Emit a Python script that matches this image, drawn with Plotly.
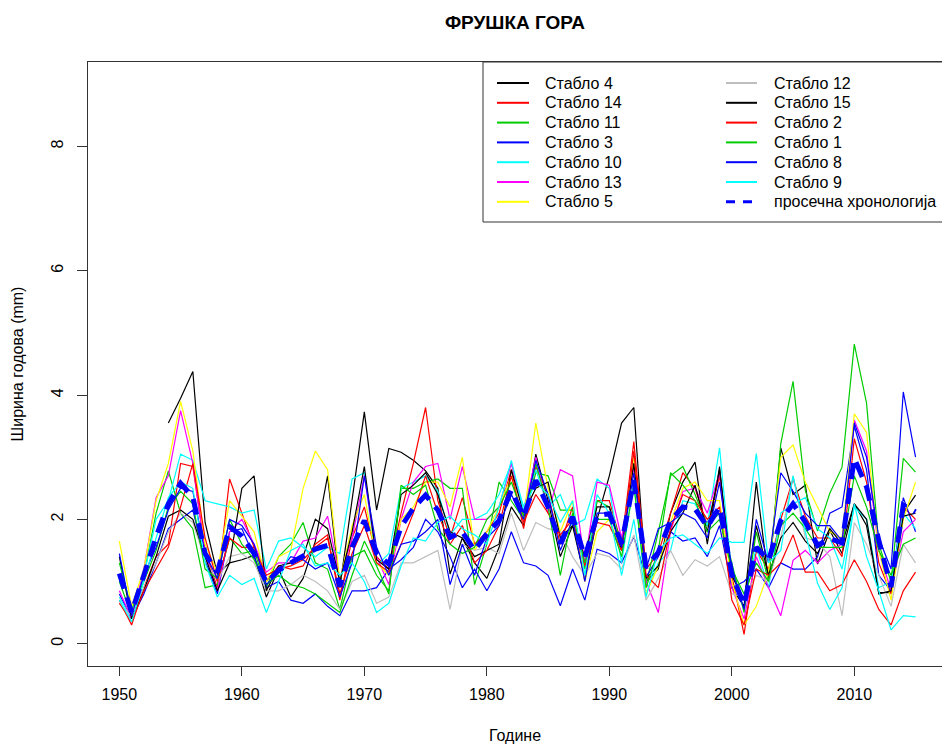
import plotly.graph_objects as go

# Tree-ring widths (mm), Fruška Gora site, 1950-2015
years = list(range(1950, 2016))

stablo_4 = [None, None, None, None, 3.55, 3.95, 4.38, 1.95, 1.12, 1.30,
            1.35, 1.42, 0.75, 1.20, 0.75, 1.05, 1.65, 2.70, 0.90, 2.30,
            3.73, 2.15, 3.14, 3.08, 2.95, 2.78, 2.50, 1.12, 1.70, 1.30,
            1.05, 1.55, 2.20, 1.90, 3.05, 2.30, 1.40, 1.90, 1.05, 2.00,
            2.70, 3.55, 3.80, 1.00, 1.20, 2.10, 2.60, 2.92, 1.60, 2.85,
            0.90, 0.60, 2.60, 1.00, 3.15, 2.40, 2.55, 1.28, 1.82, 1.45,
            2.25, 1.90, 0.82, 0.82, 2.10, 2.39]
stablo_14 = [0.70, 0.30, 0.90, 1.40, 1.60, 2.90, 2.85, 1.50, 0.90, 2.65,
             2.10, 1.55, 1.00, 1.25, 1.20, 1.25, 1.60, 1.75, 0.70, 1.70,
             2.20, 1.40, 1.20, 2.10, 2.90, 3.80, 2.30, 1.70, 2.35, 1.60,
             1.80, 2.10, 2.80, 1.85, 2.85, 2.40, 1.60, 2.20, 1.00, 2.30,
             2.30, 1.60, 3.25, 1.20, 1.45, 2.10, 2.75, 2.50, 1.90, 2.70,
             1.10, 0.15, 1.50, 1.20, 2.00, 2.65, 2.05, 1.70, 1.70, 1.40,
             3.30, 2.60, 1.30, 0.80, 2.20, 2.00]
stablo_11 = [1.00, 0.45, 1.10, 2.10, 2.78, 2.10, 1.85, 0.90, 0.95, 1.70,
             1.45, 1.50, 0.90, 1.40, 1.60, 1.95, 1.30, 1.20, 0.55, 1.40,
             1.50, 1.10, 0.85, 2.50, 2.50, 2.60, 2.65, 2.50, 2.50, 0.95,
             1.60, 2.60, 2.30, 2.00, 2.75, 2.70, 2.15, 2.15, 1.20, 2.30,
             2.20, 1.60, 3.00, 0.95, 1.80, 2.70, 2.85, 2.40, 1.90, 2.10,
             1.30, 0.50, 1.80, 1.00, 3.22, 4.22, 2.47, 1.81, 2.42, 2.84,
             4.82, 3.87, 1.60, 1.00, 2.98, 2.76]
stablo_3 = [0.80, 0.40, 0.80, 1.30, 1.85, 2.00, 2.15, 1.35, 0.80, 1.80,
            1.85, 1.40, 0.90, 1.00, 0.70, 0.65, 0.80, 0.60, 0.45, 0.85,
            0.85, 0.90, 1.20, 1.35, 1.55, 2.00, 1.80, 1.40, 0.90, 1.20,
            0.85, 1.20, 1.80, 1.30, 1.25, 1.10, 0.61, 1.20, 0.70, 1.52,
            1.45, 1.30, 1.72, 1.07, 1.40, 1.80, 1.65, 1.70, 1.40, 1.90,
            0.90, 1.00, 1.20, 0.90, 1.30, 1.20, 1.20, 1.40, 2.10, 2.20,
            3.50, 2.80, 1.10, 0.85, 2.35, 1.80]
stablo_10 = [0.75, 0.40, 1.10, 2.00, 2.30, 3.05, 2.95, 2.30, 2.25, 2.20,
             2.10, 2.15, 1.20, 1.65, 1.70, 1.55, 1.40, 1.55, 1.45, 2.65,
             2.75, 1.25, 1.45, 2.50, 2.60, 2.70, 2.45, 1.75, 2.00, 2.00,
             2.10, 2.40, 2.90, 2.20, 2.80, 2.20, 2.40, 1.90, 2.00, 2.65,
             2.50, 1.30, 2.60, 0.80, 1.30, 1.50, 2.30, 2.25, 1.90, 3.15,
             1.10, 0.70, 1.55, 0.90, 2.10, 2.25, 2.35, 1.85, 1.70, 1.20,
             2.20, 2.00, 0.90, 1.00, 2.10, 1.85]
stablo_13 = [0.85, 0.40, 1.20, 2.35, 2.70, 3.75, 2.90, 1.45, 0.85, 1.80,
             2.00, 1.60, 1.15, 1.30, 1.30, 1.65, 1.70, 2.05, 1.05, 1.70,
             2.70, 1.40, 0.95, 2.00, 2.60, 2.85, 2.90, 2.00, 2.85, 2.00,
             2.00, 2.20, 2.90, 2.10, 3.00, 2.10, 2.80, 2.70, 1.30, 2.60,
             2.55, 1.70, 2.85, 1.00, 0.50, 1.80, 2.45, 2.50, 2.10, 2.75,
             0.90, 0.40, 1.40, 0.90, 0.45, 1.34, 1.50, 1.30, 1.50, 1.60,
             3.60, 3.10, 1.50, 0.85, 1.80, 2.00]
stablo_5 = [1.65, 0.60, 1.20, 2.30, 2.90, 3.90, 3.10, 1.60, 1.15, 2.30,
            2.05, 1.80, 1.00, 1.40, 1.50, 2.50, 3.10, 2.80, 1.00, 1.90,
            2.40, 1.30, 1.10, 2.00, 2.20, 2.60, 2.60, 2.20, 3.00, 1.50,
            1.80, 2.20, 2.70, 2.00, 3.55, 2.50, 1.80, 2.30, 1.00, 1.80,
            2.00, 1.50, 3.00, 0.80, 1.25, 1.95, 2.50, 2.60, 2.30, 2.30,
            1.00, 0.30, 0.60, 1.15, 3.00, 3.20, 2.60, 2.20, 1.80, 1.70,
            3.70, 3.40, 1.50, 0.70, 2.00, 2.60]
stablo_12 = [0.65, 0.45, 0.90, 1.30, 1.80, 2.10, 1.95, 1.35, 1.00, 1.40,
             1.45, 1.30, 0.85, 0.85, 0.95, 1.10, 1.00, 0.85, 0.55, 1.00,
             1.10, 0.65, 0.75, 1.30, 1.30, 1.40, 1.50, 0.55, 1.60, 1.50,
             1.55, 1.45, 2.10, 1.50, 1.95, 1.85, 1.80, 1.40, 1.10, 1.45,
             1.40, 1.20, 1.75, 0.70, 1.05, 1.50, 1.10, 1.35, 1.25, 1.40,
             0.80, 0.75, 1.10, 1.00, 1.70, 2.70, 1.70, 1.65, 1.40, 0.45,
             1.95, 1.60, 1.10, 0.60, 1.60, 1.30]
stablo_15 = [1.40, 0.40, 0.85, 1.40, 2.05, 2.15, 2.00, 1.40, 0.85, 1.30,
             2.50, 2.70, 0.85, 1.25, 1.30, 1.40, 2.00, 1.85, 1.00, 1.80,
             2.85, 1.35, 1.20, 2.40, 2.55, 2.75, 2.40, 1.80, 1.70, 1.40,
             1.50, 1.60, 2.80, 2.10, 2.50, 2.60, 1.70, 1.90, 1.40, 2.20,
             2.20, 1.50, 2.90, 1.05, 1.25, 1.80, 2.10, 2.55, 1.80, 2.80,
             1.10, 0.70, 1.90, 1.10, 1.70, 1.95, 1.65, 1.45, 1.85, 1.60,
             2.25, 2.00, 0.80, 0.85, 2.05, 2.10]
stablo_2 = [0.65, 0.35, 0.85, 1.20, 1.55, 2.20, 2.90, 1.70, 1.00, 1.70,
            1.55, 1.55, 1.10, 1.20, 1.25, 1.35, 1.55, 1.70, 0.80, 1.45,
            1.90, 1.30, 1.15, 1.60, 2.10, 2.70, 2.10, 1.60, 1.90, 1.30,
            1.50, 1.90, 2.70, 1.95, 2.40, 2.10, 1.75, 2.00, 1.25, 1.95,
            1.90, 1.50, 3.10, 1.10, 0.90, 1.85, 2.40, 2.30, 2.00, 2.20,
            0.70, 0.30, 1.20, 1.10, 1.30, 1.75, 1.15, 1.15, 0.85, 0.95,
            1.35, 1.00, 0.55, 0.30, 0.85, 1.15]
stablo_1 = [1.30, 0.55, 1.00, 1.50, 2.20, 2.45, 2.25, 1.20, 1.05, 2.00,
            1.60, 1.35, 0.95, 1.10, 0.95, 0.90, 0.80, 0.65, 0.50, 1.10,
            1.65, 1.25, 0.80, 2.55, 2.40, 2.55, 1.85, 1.60, 1.45, 1.55,
            2.00, 2.20, 2.60, 2.05, 2.90, 2.20, 1.10, 2.10, 1.30, 2.00,
            2.00, 1.40, 2.55, 0.90, 1.50, 2.75, 2.55, 2.30, 1.80, 2.00,
            1.20, 0.80, 1.30, 1.00, 1.90, 2.10, 1.85, 1.55, 1.55, 1.55,
            2.70, 2.20, 1.50, 1.10, 1.60, 1.70]
stablo_8 = [1.45, 0.45, 1.10, 1.55, 2.15, 2.50, 2.45, 1.45, 1.05, 2.00,
            1.90, 1.60, 0.95, 1.15, 1.40, 1.35, 1.20, 1.30, 0.75, 1.30,
            2.70, 1.55, 1.10, 1.60, 1.65, 1.80, 2.00, 0.95, 1.60, 1.10,
            1.70, 1.90, 2.40, 2.00, 2.95, 2.40, 1.50, 2.00, 1.00, 2.10,
            2.10, 1.55, 2.75, 1.20, 1.85, 1.95, 2.10, 2.00, 1.70, 2.60,
            1.20, 0.55, 2.00, 1.30, 2.75, 2.45, 2.10, 1.90, 1.90, 1.65,
            3.55, 3.00, 1.70, 1.20, 4.05, 3.00]
stablo_9 = [0.70, 0.35, 1.00, 1.70, 2.35, 2.60, 2.50, 1.30, 0.75, 1.10,
            0.95, 1.05, 0.50, 1.00, 1.50, 1.60, 1.25, 1.30, 1.10, 1.30,
            1.00, 0.50, 0.65, 1.25, 1.70, 1.65, 1.95, 2.05, 1.85, 1.75,
            1.60, 2.20, 2.95, 2.15, 2.60, 2.40, 1.95, 2.30, 1.10, 2.40,
            2.10, 1.10, 2.00, 0.75, 1.50, 1.70, 1.75, 1.60, 1.45, 1.70,
            1.63, 1.63, 3.06, 1.30, 1.50, 2.70, 1.80, 0.97, 0.55, 0.90,
            2.25, 1.40, 0.85, 0.22, 0.45, 0.43]

# Mean chronology of the site
prosek = [1.13, 0.50, 1.10, 1.72, 2.25, 2.58, 2.36, 1.45, 1.15, 1.88,
          1.73, 1.45, 0.98, 1.18, 1.30, 1.40, 1.52, 1.58, 0.92, 1.55,
          1.98, 1.45, 1.28, 1.88, 2.18, 2.39, 2.15, 1.71, 1.80, 1.50,
          1.77, 1.98, 2.47, 2.04, 2.63, 2.20, 1.61, 2.04, 1.39, 2.06,
          2.09, 1.61, 2.63, 1.23, 1.47, 1.98, 2.20, 2.17, 1.88, 2.20,
          1.12, 0.62, 1.55, 1.34, 1.98, 2.25, 1.96, 1.58, 1.69, 1.62,
          2.98, 2.52, 1.66, 0.91, 2.23, 2.12]

tree_names = ["Стабло 4", "Стабло 14", "Стабло 11", "Стабло 3", "Стабло 10",
              "Стабло 13", "Стабло 5", "Стабло 12", "Стабло 15", "Стабло 2",
              "Стабло 1", "Стабло 8", "Стабло 9"]
tree_values = [stablo_4, stablo_14, stablo_11, stablo_3, stablo_10,
               stablo_13, stablo_5, stablo_12, stablo_15, stablo_2,
               stablo_1, stablo_8, stablo_9]
mean_name = "просечна хронологија"

# base R palette, recycled over the trees
palette = ["#000000", "#FF0000", "#00CD00", "#0000FF",
           "#00FFFF", "#FF00FF", "#FFFF00", "#BEBEBE"]
mean_color = "#0000FF"

W, H = 942, 744
L, T, B = 88, 62, 666
FONT = "Liberation Sans, Arial, Helvetica, sans-serif"

fig = go.Figure()
for i, (name, vals) in enumerate(zip(tree_names, tree_values)):
    fig.add_trace(go.Scatter(
        x=years, y=vals, mode="lines", name=name,
        line=dict(color=palette[i % len(palette)], width=1.2),
        showlegend=False))
fig.add_trace(go.Scatter(
    x=years, y=prosek, mode="lines", name=mean_name,
    line=dict(color=mean_color, width=5, dash="16px,9px"),
    showlegend=False))

# legend box drawn in the top-right corner of the plot region
def px_x(p):
    return (p - L) / (W - L)

def px_y(p):
    return (B - p) / (B - T)

shapes = [dict(type="rect", xref="paper", yref="paper",
               x0=px_x(483), x1=1.05, y0=px_y(222), y1=1.0,
               line=dict(color="#333333", width=1), fillcolor="white",
               layer="above")]
annotations = []
col_names = [tree_names[:7], tree_names[7:] + [mean_name]]
col_colors = [[palette[i % 8] for i in range(7)],
              [palette[i % 8] for i in range(7, 13)] + [mean_color]]
line_x = [(497, 529), (726, 757)]
text_x = [543, 772]
row0, row_step = 83, 19.8
for c in range(2):
    for r, (nm, colr) in enumerate(zip(col_names[c], col_colors[c])):
        yy = px_y(row0 + r * row_step)
        is_mean = nm == mean_name
        shapes.append(dict(
            type="line", xref="paper", yref="paper",
            x0=px_x(line_x[c][0]), x1=px_x(line_x[c][1]), y0=yy, y1=yy,
            line=dict(color=colr, width=3 if is_mean else 2,
                      dash="9px,8px" if is_mean else "solid"),
            layer="above"))
        annotations.append(dict(
            xref="paper", yref="paper", x=px_x(text_x[c]), y=yy,
            text=nm, showarrow=False, xanchor="left", yanchor="middle",
            font=dict(size=16, color="#000000", family=FONT)))

fig.update_layout(
    width=W, height=H,
    margin=dict(l=L, r=0, t=T, b=H - B, pad=0),
    paper_bgcolor="white", plot_bgcolor="white",
    font=dict(family=FONT, size=16, color="#000000"),
    title=dict(text="<b>ФРУШКА ГОРА</b>", x=0.5, xref="paper",
               y=1 - 22 / H, yref="container", yanchor="middle",
               font=dict(size=19, family=FONT, color="#000000")),
    xaxis=dict(range=[1947.44, 2017.16], tickmode="array",
               tickvals=[1950, 1960, 1970, 1980, 1990, 2000, 2010],
               showgrid=False, zeroline=False,
               showline=True, mirror=True, linecolor="#333333", linewidth=1,
               ticks="outside", ticklen=9, tickcolor="#333333",
               ticklabelstandoff=5,
               tickfont=dict(size=16),
               title=dict(text="Године", standoff=28, font=dict(size=16))),
    yaxis=dict(range=[-0.36, 9.36], tickmode="array",
               tickvals=[0, 2, 4, 6, 8],
               showgrid=False, zeroline=False,
               showline=True, mirror=True, linecolor="#333333", linewidth=1,
               ticks="outside", ticklen=10, tickcolor="#333333",
               ticklabelstandoff=8,
               tickangle=-90, tickfont=dict(size=16),
               title=dict(text="Ширина годова (mm)", standoff=20,
                          font=dict(size=16))),
    shapes=shapes, annotations=annotations,
    showlegend=False,
)

fig.write_html("out.html")
